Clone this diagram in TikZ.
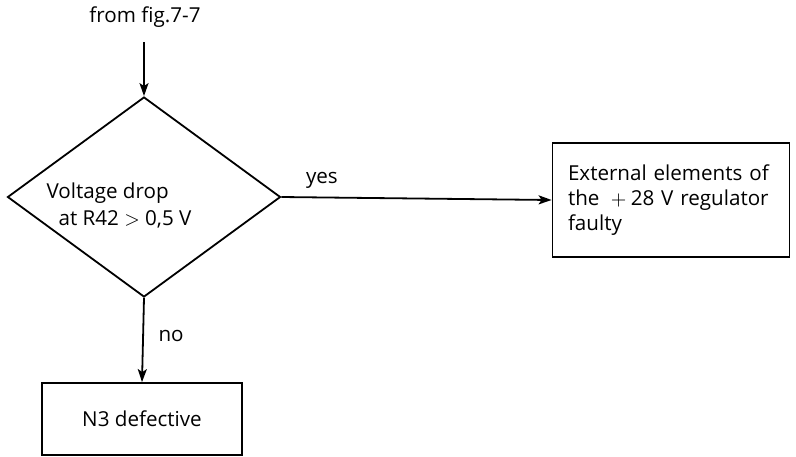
\documentclass[tikz,border=0pt]{standalone}
\usepackage{fontspec}
\setmainfont{Open Sans}
\usetikzlibrary{shapes.geometric,arrows.meta}

\begin{document}
\begin{tikzpicture}[x=0.5pt, y=-0.5pt,
                every node/.style={font=\fontsize{10.3}{12.5}\selectfont},
                box/.style={rectangle, draw, line width=0.9pt, inner sep=0pt},
                decision/.style={diamond, draw, line width=0.9pt, inner sep=0pt,
                minimum width=136.5pt, minimum height=100pt, aspect=1.365},
                arrow/.style={-{Stealth[length=6.5pt,width=4.5pt,inset=1.5pt]}, line width=0.9pt}
            ]
        \useasboundingbox (0,0) rectangle (796,456);

        \node                        (from)   at (145,17)  {from fig.7-7};
        \coordinate                  (start)  at (144,42);
        \node[decision]              (check)  at (144,197) {};
        \node[align=left, font=\fontsize{10.3}{13.5}\selectfont]
                                     (cond)   at (119,205) {Voltage drop\\\hspace{6pt}at R42 $>$ 0,5 V};
        \node[box, minimum width=118.5pt, minimum height=57pt, text width=103pt, align=left]
                                     (ext)    at (671,200) {External elements of\\the ${}+{}$28 V regulator\\faulty};
        \node[box, minimum width=100pt, minimum height=36pt]
                                     (defect) at (142,419) {N3 defective};

        \draw[arrow] (start)       -- (check.north);
        \draw[arrow] (check.east)  -- node[pos=0.15, above, yshift=0.5pt] {yes} (ext.west);
        \draw[arrow] (check.south) -- node[right, xshift=4pt, yshift=2pt] {no} (defect.north);
            \end{tikzpicture}
\end{document}
